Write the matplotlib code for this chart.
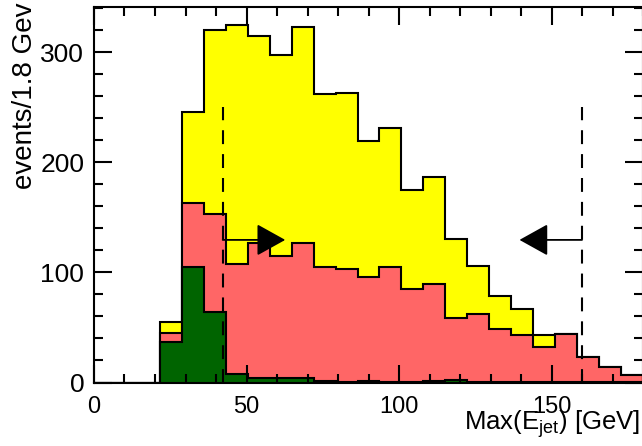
import numpy as np
import matplotlib
matplotlib.use("Agg")
import matplotlib.pyplot as plt

plt.rcParams['font.family'] = ['Liberation Sans', 'DejaVu Sans']
plt.rcParams['mathtext.fontset'] = 'custom'
plt.rcParams['mathtext.rm'] = 'Liberation Sans'
plt.rcParams['mathtext.it'] = 'Liberation Sans'

# ---- data ----
bin_width = 7.2
n_bins = 25
total = [0, 0, 0, 54.7, 245.3, 320.5, 325, 315, 297.7, 323, 262, 263, 219.5,
         231, 174.4, 186.2, 130.5, 106, 78.6, 67, 43.2, 44, 23.5, 14.4, 6.5]
middle = [0, 0, 0, 44.7, 163, 153, 107.7, 126.5, 115, 127, 104.7, 103.5, 95.6,
          105.3, 85, 89, 58.3, 62.3, 48.3, 42.9, 32.6, 44, 23.5, 14.4, 6.5]
bottom = [0, 0, 0, 36.5, 105, 64, 7.4, 3.8, 3.8, 3.8, 1.2, 0.8, 1.0,
          0.8, 0.8, 1.0, 2.3, 0.5, 0.3, 0.3, 0.3, 0.3, 0.3, 0.3, 0.3]
cut_low = 42.2
cut_high = 160.0
cut_line_top = 250
arrow_y = 129.5
arrow_len = 20.5
xticks = [0, 50, 100, 150]
yticks = [0, 100, 200, 300]

edges = np.arange(n_bins + 1) * bin_width

fig = plt.figure(figsize=(6.42, 4.46), dpi=100)
W, H = 642, 446
ax = fig.add_axes([94 / W, 1 - 382.5 / H, (643 - 94) / W, (382.5 - 7) / H])

for vals, col in [(total, '#ffff00'), (middle, '#ff6666'), (bottom, '#006400')]:
    ax.stairs(vals, edges, fill=True, color=col, lw=0)
    ax.stairs(vals, edges, fill=False, color='black', lw=1.5, baseline=0)

lw = 1.5
for c in (cut_low, cut_high):
    ax.vlines(c, 0, cut_line_top, colors='black', lw=lw,
              linestyles=[(0, (10 / lw, 7.2 / lw))])

arrow_props = dict(arrowstyle='-|>,head_length=18,head_width=10', lw=1.3,
                   color='black', mutation_scale=1, shrinkA=0, shrinkB=0)
ax.annotate('', xy=(cut_low + arrow_len, arrow_y), xytext=(cut_low, arrow_y),
            arrowprops=arrow_props)
ax.annotate('', xy=(cut_high - arrow_len, arrow_y), xytext=(cut_high, arrow_y),
            arrowprops=arrow_props)

ax.set_xlim(0, 180)
ax.set_ylim(0, 341)
ax.set_xticks(xticks)
ax.set_yticks(yticks)
ax.set_xticks(np.arange(0, 181, 10), minor=True)
ax.set_yticks(np.arange(0, 341, 20), minor=True)
ax.tick_params(which='both', direction='in', top=True, right=True, width=1.5)
ax.tick_params(which='major', length=13)
ax.tick_params(which='minor', length=6.5)
ax.tick_params(axis='x', which='major', labelsize=17, pad=10)
ax.tick_params(axis='y', which='major', labelsize=19, pad=7)
for s in ax.spines.values():
    s.set_linewidth(1.5)

ax.set_xlabel('Max(E$_{\\mathrm{jet}}$) [GeV]', fontsize=18.5, ha='right', va='baseline')
ax.xaxis.set_label_coords((640 - 94) / 549, (382.5 - 430) / 375.5)
ax.set_ylabel('events/1.8 Gev', fontsize=20, ha='right', va='center')
ax.yaxis.set_label_coords((25 - 94) / 549, (382.5 - 3) / 375.5)

fig.savefig('out.png', dpi=100)
